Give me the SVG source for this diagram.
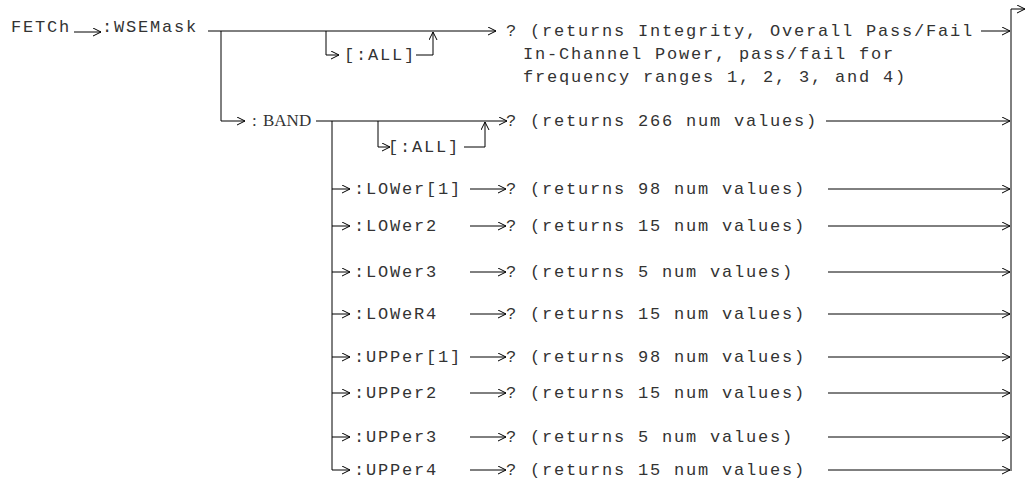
<svg xmlns="http://www.w3.org/2000/svg" width="1027" height="485" viewBox="0 0 1027 485">
<style>
text{font-family:"Liberation Mono","Courier New",monospace;font-size:17px;letter-spacing:1.8px;fill:#333}
text.s{font-family:"Liberation Serif","Times New Roman",serif;letter-spacing:0}
.c{fill:none;stroke:#000;stroke-width:1}
.a{fill:none;stroke:#000;stroke-width:1;marker-end:url(#ah)}
</style>
<defs>
<marker id="ah" markerWidth="10" markerHeight="10" refX="8" refY="4" orient="auto" markerUnits="userSpaceOnUse">
<path d="M0,0 L8,4 L0,8" fill="none" stroke="#000" stroke-width="1"/>
</marker>
</defs>
<rect width="1027" height="485" fill="#fff"/>
<g id="connectors">
<path class="a" d="M74,32 H101"/>
<path class="a" d="M208,31 H496"/>
<path class="a" d="M326,31 V55 H339"/>
<path class="a" d="M416,55 H433 V32"/>
<path class="a" d="M981,31 H1010"/>
<path class="c" d="M1011,471 V9"/>
<path class="a" d="M1011,9 H1025"/>
<path class="a" d="M221,31 V121 H245"/>
<path class="a" d="M316,121 H507"/>
<path class="a" d="M378,121 V147 H390"/>
<path class="a" d="M464,147 H485 V122"/>
<path class="a" d="M826,121 H1010"/>
<path class="c" d="M332,121 V470"/>
<path class="a" d="M332,189 H350"/><path class="a" d="M470,189 H506"/><path class="a" d="M828,189 H1010"/>
<path class="a" d="M332,226 H350"/><path class="a" d="M470,226 H506"/><path class="a" d="M828,226 H1010"/>
<path class="a" d="M332,272 H350"/><path class="a" d="M470,272 H506"/><path class="a" d="M828,272 H1010"/>
<path class="a" d="M332,314 H350"/><path class="a" d="M470,314 H506"/><path class="a" d="M828,314 H1010"/>
<path class="a" d="M332,357 H350"/><path class="a" d="M470,357 H506"/><path class="a" d="M828,357 H1010"/>
<path class="a" d="M332,393 H350"/><path class="a" d="M470,393 H506"/><path class="a" d="M828,393 H1010"/>
<path class="a" d="M332,437 H350"/><path class="a" d="M470,437 H506"/><path class="a" d="M828,437 H1010"/>
<path class="a" d="M332,470 H350"/><path class="a" d="M470,470 H506"/><path class="a" d="M828,470 H1010"/>
</g>
<g id="n-fetch"><text x="11" y="32">FETCh</text></g>
<g id="n-wsemask"><text x="102" y="32">:WSEMask</text></g>
<g id="n-all1"><text x="344" y="60">[:ALL]</text></g>
<g id="n-result1"><text x="506" y="36">? (returns Integrity, Overall Pass/Fail</text>
<text x="523" y="59">In-Channel Power, pass/fail for</text>
<text x="523" y="82">frequency ranges 1, 2, 3, and 4)</text></g>
<g id="n-band"><text class="s" x="252" y="126">:<tspan x="263">BAND</tspan></text></g>
<g id="n-all2"><text x="388" y="152">[:ALL]</text></g>
<g id="n-band-result"><text x="506" y="126">? (returns 266 num values)</text></g>
<g id="n-lower1"><text x="354" y="194">:LOWer[1]</text><text x="506" y="194">? (returns 98 num values)</text></g>
<g id="n-lower2"><text x="354" y="231">:LOWer2</text><text x="506" y="231">? (returns 15 num values)</text></g>
<g id="n-lower3"><text x="354" y="277">:LOWer3</text><text x="506" y="277">? (returns 5 num values)</text></g>
<g id="n-lower4"><text x="354" y="319">:LOWeR4</text><text x="506" y="319">? (returns 15 num values)</text></g>
<g id="n-upper1"><text x="354" y="362">:UPPer[1]</text><text x="506" y="362">? (returns 98 num values)</text></g>
<g id="n-upper2"><text x="354" y="398">:UPPer2</text><text x="506" y="398">? (returns 15 num values)</text></g>
<g id="n-upper3"><text x="354" y="442">:UPPer3</text><text x="506" y="442">? (returns 5 num values)</text></g>
<g id="n-upper4"><text x="354" y="475">:UPPer4</text><text x="506" y="475">? (returns 15 num values)</text></g>
</svg>
